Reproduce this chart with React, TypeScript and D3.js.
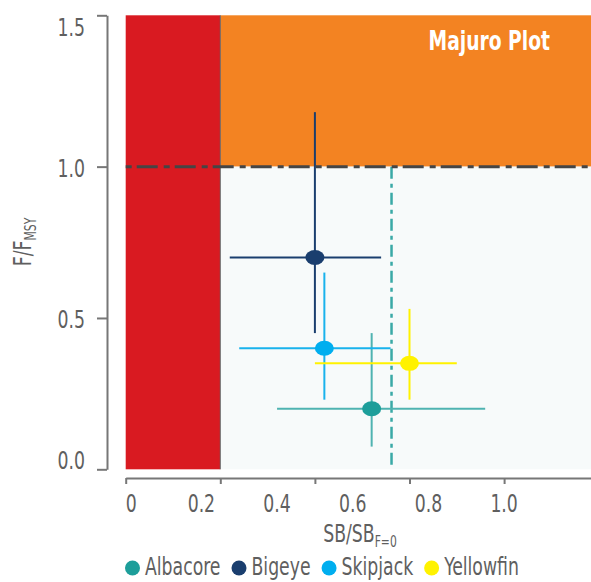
import React, { useRef, useEffect } from "react";
import { select, scaleLinear, axisLeft, axisBottom } from "d3";

// stock status values (SB/SBF=0 on x, F/FMSY on y)
const species = ["Albacore", "Bigeye", "Skipjack", "Yellowfin"];
const sbMedian = [0.52, 0.4, 0.42, 0.6];
const sbLow = [0.32, 0.22, 0.24, 0.4];
const sbHigh = [0.76, 0.54, 0.56, 0.7];
const fMedian = [0.2, 0.7, 0.4, 0.35];
const fLow = [0.075, 0.45, 0.23, 0.23];
const fHigh = [0.45, 1.18, 0.65, 0.53];
const dotColors = ["#1d9e9a", "#1a3e6e", "#00aeef", "#fff200"];
const barColors = ["#4fb3b1", "#1a3e6e", "#19b2ec", "#fff200"];

const yTicks = [0, 0.5, 1.0, 1.5];
const xTicks = [0, 0.2, 0.4, 0.6, 0.8];
const xTickLabels = ["0", "0.2", "0.4", "0.6", "0.8", "1.0"];

const limitRef = 0.2; // SB/SBF=0 limit
const fRef = 1.0; // F/FMSY
const targetRef = 0.562; // teal dash-dot line

const FONT = "'Liberation Sans Narrow', 'DejaVu Sans Condensed', 'Roboto', sans-serif";
const SQUEEZE = 0.8; // the reference font is narrower than anything installed
const GREY = "#5f5f5f";

// text squeezed horizontally, anchored at (x, y)
const addText = (parent, x, y, str, size, anchor = "start", rotate = 0) => {
  const g = parent
    .append("g")
    .attr("transform", `translate(${x},${y}) rotate(${rotate}) scale(${SQUEEZE},1)`);
  const t = g
    .append("text")
    .attr("text-anchor", anchor)
    .attr("font-family", FONT)
    .attr("font-size", size)
    .attr("fill", GREY);
  if (str !== null) t.text(str);
  return t;
};

const MajuroPlot = () => {
  const svgRef = useRef<SVGSVGElement>(null);

  useEffect(() => {
    const width = 591;
    const height = 582;
    const svg = select(svgRef.current).attr("width", width).attr("height", height);
    svg.selectAll("*").remove();

    const x = scaleLinear().domain([0, 1]).range([125.7, 598.7]);
    const y = scaleLinear().domain([0, 1.5]).range([469.3, 15.3]);
    // the printed labels sit on their own even spacing
    const xLabel = scaleLinear().domain([0, 1]).range([x(0), x(0.8)]);

    const plot = svg.append("g");
    // zones
    plot
      .append("rect")
      .attr("x", x(0))
      .attr("y", y(1.5))
      .attr("width", x(limitRef) - x(0))
      .attr("height", y(0) - y(1.5))
      .attr("fill", "#d91a21");
    plot
      .append("rect")
      .attr("x", x(limitRef))
      .attr("y", y(1.5))
      .attr("width", x(1) - x(limitRef))
      .attr("height", y(fRef) - y(1.5))
      .attr("fill", "#f38322");
    plot
      .append("rect")
      .attr("x", x(limitRef))
      .attr("y", y(fRef))
      .attr("width", x(1) - x(limitRef))
      .attr("height", y(0) - y(fRef))
      .attr("fill", "#f7fafa");
    plot
      .append("line")
      .attr("x1", x(limitRef))
      .attr("x2", x(limitRef))
      .attr("y1", y(1.5))
      .attr("y2", y(0))
      .attr("stroke", "#666")
      .attr("stroke-width", 1);

    // reference lines
    plot
      .append("line")
      .attr("x1", x(targetRef))
      .attr("x2", x(targetRef))
      .attr("y1", y(fRef))
      .attr("y2", y(0))
      .attr("stroke", "#3aa9a6")
      .attr("stroke-width", 2.5)
      .attr("stroke-dasharray", "12,5,4,5");
    plot
      .append("line")
      .attr("x1", x(0))
      .attr("x2", x(1))
      .attr("y1", y(fRef))
      .attr("y2", y(fRef))
      .attr("stroke", "#454545")
      .attr("stroke-width", 3)
      .attr("stroke-dasharray", "6,5,21,6");

    addText(plot, 550, 50, "Majuro Plot", 26, "end")
      .attr("font-weight", "bold")
      .attr("fill", "#fff");

    // error bars + points
    const rows = species.map((s, i) => ({ s, i }));
    const bars = plot.selectAll(".bar").data(rows).join("g").attr("class", "bar");
    bars
      .append("line")
      .attr("x1", (d) => x(sbLow[d.i]))
      .attr("x2", (d) => x(sbHigh[d.i]))
      .attr("y1", (d) => y(fMedian[d.i]))
      .attr("y2", (d) => y(fMedian[d.i]))
      .attr("stroke", (d) => barColors[d.i])
      .attr("stroke-width", 2);
    bars
      .append("line")
      .attr("x1", (d) => x(sbMedian[d.i]))
      .attr("x2", (d) => x(sbMedian[d.i]))
      .attr("y1", (d) => y(fLow[d.i]))
      .attr("y2", (d) => y(fHigh[d.i]))
      .attr("stroke", (d) => barColors[d.i])
      .attr("stroke-width", 2);
    bars
      .append("ellipse")
      .attr("cx", (d) => x(sbMedian[d.i]))
      .attr("cy", (d) => y(fMedian[d.i]))
      .attr("rx", 9.5)
      .attr("ry", 7.5)
      .attr("fill", (d) => dotColors[d.i]);

    // y axis
    const yAxisG = svg
      .append("g")
      .attr("transform", "translate(107,0)")
      .call(axisLeft(y).tickValues(yTicks).tickSize(10).tickSizeOuter(0).tickFormat(() => ""));
    yAxisG.selectAll("path, line").attr("stroke", "#777").attr("stroke-width", 2);
    yTicks.forEach((v) => {
      // labels are kept inside the axis span
      const shift = v === 1.5 ? 21 : v === 0 ? 0 : 10;
      addText(svg, 85, y(v) + shift, v.toFixed(1), 24, "end");
    });

    // x axis
    const xAxisG = svg
      .append("g")
      .attr("transform", "translate(0,478)")
      .call(axisBottom(x).tickValues(xTicks).tickSize(6).tickSizeOuter(0).tickFormat(() => ""));
    xAxisG.selectAll("path, line").attr("stroke", "#777").attr("stroke-width", 2);

    xTickLabels.forEach((lab, i) => {
      addText(svg, i === 0 ? xLabel(0) : xLabel(i / 5), 512, lab, 24, i === 0 ? "start" : "middle");
    });

    // axis titles
    const xt = addText(svg, 360, 542, null, 24, "middle");
    xt.append("tspan").text("SB/SB");
    xt.append("tspan").attr("font-size", 15).attr("dy", 5).text("F=0");

    const yt = addText(svg, 31, 242, null, 24, "middle", -90);
    yt.append("tspan").text("F/F");
    yt.append("tspan").attr("font-size", 15).attr("dy", 5).text("MSY");

    // legend
    const legend = svg.append("g");
    let lx = 125;
    species.forEach((s, i) => {
      legend
        .append("circle")
        .attr("cx", lx + 7.5)
        .attr("cy", 568)
        .attr("r", 7.5)
        .attr("fill", dotColors[i]);
      const t = addText(legend, lx + 20, 575, s, 24);
      const w = (t.node() as SVGTextElement).getComputedTextLength() * SQUEEZE;
      lx = lx + 20 + w + 11;
    });
  }, []);

  return <svg ref={svgRef} style={{ position: "absolute", left: 0, top: 0 }}></svg>;
};

export default function App() {
  return <MajuroPlot />;
}
